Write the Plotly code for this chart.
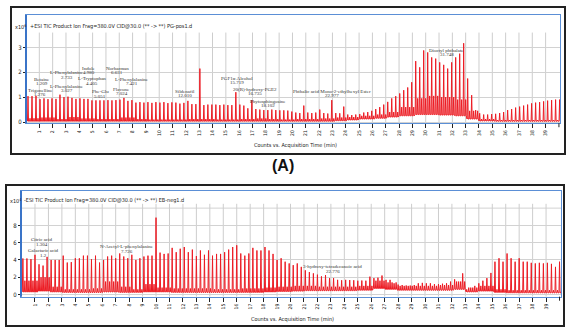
import plotly.graph_objects as go

FIG_W, FIG_H = 566, 331

# ---------------- Panel A : +ESI TIC (x10^6 counts) ----------------
A_T0, A_DT = 0.15, 0.30          # first scan-cycle spike (min) and cycle length (min)
A_PEAK = [
    1.04, 1.04, 1.05, 0.92, 0.95, 0.92, 0.95, 0.93, 1.10, 1.00,
    1.02, 0.97, 0.93, 0.95, 0.93, 0.93, 0.87, 0.87, 0.87, 0.87,
    0.88, 0.87, 0.88, 0.90, 0.97, 0.85, 0.88, 0.78, 0.80, 0.78,
    0.80, 0.77, 0.80, 0.78, 0.80, 0.76, 0.79, 0.78, 0.74, 0.77,
    0.85, 0.72, 0.72, 2.15, 0.68, 0.70, 0.70, 0.70, 0.68, 0.70,
    0.68, 0.68, 1.20, 0.70, 0.66, 0.55, 0.88, 0.52, 0.50, 0.48,
    0.48, 0.50, 0.48, 0.47, 0.47, 0.46, 0.42, 0.38, 0.36, 0.66,
    0.38, 0.36, 0.38, 0.50, 0.36, 0.34, 0.88, 0.36, 0.35, 0.62,
    0.30, 0.28, 0.30, 0.32, 0.38, 0.40, 0.45, 0.52, 0.60, 0.70,
    0.81, 0.95, 1.04, 1.15, 1.28, 1.39, 1.60, 2.45, 2.20, 2.88,
    2.80, 2.60, 2.55, 2.40, 2.30, 2.15, 2.40, 2.60, 2.75, 3.17,
    1.75, 1.08, 0.48, 0.35, 0.30, 0.30, 0.32, 0.33, 0.36, 0.40,
    0.48, 0.52, 0.58, 0.62, 0.66, 0.70, 0.75, 0.78, 0.80, 0.83,
    0.86, 0.88, 0.90, 0.90]
A_MINOR = [0.15, 0.18, 0.12, 0.20, 0.14, 0.12, 0.12, 0.18, 0.12, 0.10,
           0.10, 0.10, 0.12, 0.12, 0.10, 0.10, 0.12, 0.14, 0.12, 0.10,
           0.12, 0.12, 0.14, 0.18, 0.20, 0.25, 0.30, 0.40, 0.60, 0.95,
           1.05, 1.00, 0.90, 0.45, 0.12, 0.08, 0.08, 0.08, 0.08, 0.08]
A_FLOOR = [0.03, 0.03, 0.03, 0.03, 0.03, 0.03, 0.03, 0.03, 0.03, 0.03,
           0.03, 0.03, 0.03, 0.03, 0.03, 0.03, 0.03, 0.03, 0.03, 0.03,
           0.03, 0.03, 0.03, 0.05, 0.08, 0.12, 0.15, 0.20, 0.25, 0.30,
           0.30, 0.28, 0.25, 0.12, 0.04, 0.03, 0.03, 0.03, 0.03, 0.03]
A_NAMES = ["Betaine", "Trigonelline", "L-Phenylalanine", "L-Phenylalanine", "Indole",
           "L-Tryptophan", "Phe-Glu", "Norharman", "L-Phenylalanine", "Flavone",
           "Sildenafil", "PGF1α Alcohol", "20(R)-hydroxy-PGE2", "Phytosphingosine",
           "Phthalic acid Mono-2-ethylhexyl Ester", "Dioctyl phthalate"]
A_RT = ["1.209", "1.276", "2.733", "3.027", "4.980", "4.405", "5.051", "6.631",
        "7.421", "7.024", "12.010", "15.719", "16.735", "18.102", "22.977", "31.748"]
A_LBL_X = [1.2, 1.07, 3.1, 3.08, 4.7, 4.95, 5.57, 6.83, 7.95, 7.2, 11.95, 15.83, 17.2, 18.2, 22.96, 31.58]
A_LBL_Y = [1.71, 1.28, 1.98, 1.44, 2.16, 1.74, 1.22, 2.16, 1.71, 1.31, 1.24, 1.75, 1.31, 0.84, 1.24, 2.88]

# ---------------- Panel B : -ESI TIC (x10^4 counts) ----------------
B_T0, B_DT = 0.10, 0.30
B_PEAK = [
    4.17, 4.17, 4.10, 4.60, 3.50, 3.35, 4.36, 4.00, 4.00, 4.00,
    4.50, 3.70, 3.75, 4.20, 4.20, 4.50, 4.50, 4.10, 4.50, 3.70,
    4.00, 4.40, 4.50, 4.20, 4.75, 4.40, 4.20, 4.60, 4.00, 4.20,
    4.40, 4.50, 4.50, 8.90, 4.85, 4.70, 4.75, 5.40, 4.90, 5.30,
    5.50, 4.90, 5.20, 4.45, 5.10, 4.60, 5.10, 4.50, 4.70, 4.70,
    4.90, 5.20, 5.50, 5.70, 4.75, 4.50, 4.75, 5.40, 5.10, 5.10,
    5.50, 5.10, 4.70, 4.00, 4.20, 3.80, 3.60, 3.40, 3.60, 3.20,
    2.80, 2.60, 2.45, 2.30, 2.10, 2.25, 1.90, 1.90, 1.70, 1.65,
    1.70, 1.68, 1.65, 1.60, 1.62, 1.60, 2.07, 1.90, 1.95, 2.20,
    1.70, 1.70, 1.30, 1.15, 1.10, 1.05, 1.04, 1.10, 1.30, 1.35,
    1.30, 1.30, 1.20, 1.20, 1.25, 1.30, 1.50, 1.76, 1.50, 2.45,
    0.60, 0.80, 1.00, 1.30, 1.60, 1.90, 2.50, 3.80, 4.20, 3.80,
    4.75, 4.20, 3.80, 4.20, 3.80, 3.80, 3.67, 3.60, 3.67, 3.60,
    3.67, 3.55, 3.20, 3.80]
B_MINOR = [1.6, 2.0, 0.9, 0.6, 0.6, 0.7, 1.5, 0.9, 0.6, 1.2,
           0.8, 0.7, 0.7, 0.7, 0.6, 0.6, 0.7, 0.7, 0.8, 0.9,
           1.0, 1.0, 0.9, 0.9, 0.9, 1.0, 1.6, 1.4, 1.0, 1.0,
           1.0, 1.1, 1.5, 0.8, 1.0, 0.6, 0.5, 0.5, 0.5, 0.5]
B_FLOOR = [0.30, 0.40, 0.30, 0.25, 0.25, 0.25, 0.30, 0.25, 0.25, 0.30,
           0.30, 0.25, 0.25, 0.25, 0.25, 0.25, 0.25, 0.25, 0.30, 0.35,
           0.40, 0.45, 0.45, 0.45, 0.45, 0.50, 0.70, 0.60, 0.50, 0.50,
           0.50, 0.50, 0.60, 0.30, 0.40, 0.25, 0.20, 0.20, 0.20, 0.20]
B_NAMES = ["Citric acid", "Galactaric acid", "N-Acetyl-L-phenylalanine", "3-hydroxy-tetradecanoic acid"]
B_RT = ["1.304", "1.2", "7.726", "22.776"]
B_LBL_X = [1.5, 1.62, 7.82, 23.14]
B_LBL_Y = [6.39, 5.06, 5.52, 3.22]

X_TICKS = list(range(1, 40))
A_YTICKS = [0, 1, 2, 3]
B_YTICKS = [0, 2, 4, 6, 8]

RED = "rgb(236,28,36)"
BLUE = "#5b8fd6"
GRID = "#d2d2d2"
NARROW = "Liberation Sans Narrow, Arial Narrow, DejaVu Sans Condensed, Liberation Sans, sans-serif"
SERIF = "Liberation Serif, Times New Roman, serif"


def spikes(t0, dt, peaks, minor, floor):
    xs, ys = [], []
    for i, h in enumerate(peaks):
        t = t0 + i * dt
        m = min(int(t), len(minor) - 1)
        f = floor[m]
        xs += [t - 0.04, t, t + 0.04, t + 0.11, t + 0.15, t + 0.19]
        ys += [f, h, f, f, minor[m], f]
    return xs, ys


def px(x):
    return x / FIG_W


def py(y):
    return 1 - y / FIG_H


fig = go.Figure()
ax, ay = spikes(A_T0, A_DT, A_PEAK, A_MINOR, A_FLOOR)
bx, by = spikes(B_T0, B_DT, B_PEAK, B_MINOR, B_FLOOR)
fig.add_trace(go.Scatter(x=ax, y=ay, mode="lines", line=dict(color=RED, width=1),
                         xaxis="x", yaxis="y", hoverinfo="skip", showlegend=False))
fig.add_trace(go.Scatter(x=bx, y=by, mode="lines", line=dict(color=RED, width=1),
                         xaxis="x2", yaxis="y2", hoverinfo="skip", showlegend=False))

xcommon = dict(showgrid=False, zeroline=False, showline=True, mirror=True, linecolor=BLUE,
               linewidth=1, ticks="outside", ticklen=4, tickcolor="#222", tickwidth=1,
               tickvals=X_TICKS, tickangle=-90,
               tickfont=dict(family=NARROW, size=5, color="#222"), fixedrange=True)
ycommon = dict(showgrid=True, gridcolor=GRID, gridwidth=1, zeroline=False, showline=True,
               mirror=True, linecolor=BLUE, linewidth=1, ticks="outside", ticklen=2,
               tickcolor="#222", tickfont=dict(family=NARROW, size=6, color="#222"),
               fixedrange=True)

fig.update_layout(
    width=FIG_W, height=FIG_H, autosize=False,
    margin=dict(l=0, r=0, t=0, b=0),
    paper_bgcolor="white", plot_bgcolor="white",
    xaxis=dict(xcommon, domain=[px(26), px(560)], range=[0, 40.08], anchor="y"),
    yaxis=dict(ycommon, domain=[py(124), py(15)], range=[-0.05, 4.31], anchor="x",
               tickvals=A_YTICKS),
    xaxis2=dict(xcommon, domain=[px(21), px(561)], range=[-0.04, 40.11], anchor="y2"),
    yaxis2=dict(ycommon, domain=[py(298.5), py(192)], range=[-0.25, 12.0], anchor="x2",
                tickvals=B_YTICKS),
)

shapes = []
# vertical minute grid lines
for k in X_TICKS:
    shapes.append(dict(type="line", xref="x", yref="y", x0=k, x1=k, y0=-0.05, y1=3.6,
                       line=dict(color="#cdcdcd", width=1), layer="below"))
    shapes.append(dict(type="line", xref="x2", yref="y2", x0=k, x1=k, y0=-0.25, y1=10.5,
                       line=dict(color="#cdcdcd", width=1), layer="below"))
# end-of-run tick at 40 min
shapes.append(dict(type="line", xref="x", yref="paper", x0=40, x1=40, y0=py(124), y1=py(128),
                   line=dict(color="#222", width=1)))
shapes.append(dict(type="line", xref="x2", yref="paper", x0=40, x1=40, y0=py(298.5), y1=py(302.5),
                   line=dict(color="#222", width=1)))
# horizontal grid line at 10 (panel B, no label)
shapes.append(dict(type="line", xref="paper", yref="y2", x0=px(21), x1=px(561), y0=10, y1=10,
                   line=dict(color=GRID, width=1), layer="below"))
# thicker left blue axis
shapes.append(dict(type="line", xref="paper", yref="paper", x0=px(26), x1=px(26),
                   y0=py(124), y1=py(15), line=dict(color="#3a74c8", width=2)))
shapes.append(dict(type="line", xref="paper", yref="paper", x0=px(21), x1=px(21),
                   y0=py(298.5), y1=py(192), line=dict(color="#3a74c8", width=2)))
# outer black frames
shapes.append(dict(type="rect", xref="paper", yref="paper", x0=px(11), x1=px(565),
                   y0=py(155), y1=py(7), line=dict(color="#222", width=2)))
shapes.append(dict(type="rect", xref="paper", yref="paper", x0=px(6), x1=px(564),
                   y0=py(328), y1=py(186), line=dict(color="#222", width=2)))
fig.update_layout(shapes=shapes)

ann = []
for name, rt, x, y in zip(A_NAMES, A_RT, A_LBL_X, A_LBL_Y):
    ann.append(dict(xref="x", yref="y", x=x, y=y, text=name, showarrow=False,
                    font=dict(family=SERIF, size=5, color="#333"), yanchor="middle"))
    ann.append(dict(xref="x", yref="y", x=x, y=y - 0.18, text=rt, showarrow=False,
                    font=dict(family=SERIF, size=5, color="#333"), yanchor="middle"))
for name, rt, x, y in zip(B_NAMES, B_RT, B_LBL_X, B_LBL_Y):
    ann.append(dict(xref="x2", yref="y2", x=x, y=y, text=name, showarrow=False,
                    font=dict(family=SERIF, size=5, color="#333"), yanchor="middle"))
    ann.append(dict(xref="x2", yref="y2", x=x, y=y - 0.55, text=rt, showarrow=False,
                    font=dict(family=SERIF, size=5, color="#333"), yanchor="middle"))

small = dict(family=NARROW, size=5.5, color="#222")
ann += [
    dict(xref="paper", yref="paper", x=px(13), y=py(26.5), xanchor="left", yanchor="middle",
         text="x10<sup>6</sup>", showarrow=False, font=small),
    dict(xref="paper", yref="paper", x=px(28), y=py(26.5), xanchor="left", yanchor="middle",
         text="+ESI TIC Product Ion Frag=380.0V CID@30.0 (** -> **) PG-pos1.d",
         showarrow=False, font=small),
    dict(xref="paper", yref="paper", x=px(8), y=py(201.5), xanchor="left", yanchor="middle",
         text="x10<sup>4</sup>", showarrow=False, font=small),
    dict(xref="paper", yref="paper", x=px(22), y=py(201.5), xanchor="left", yanchor="middle",
         text="-ESI TIC Product Ion Frag=380.0V CID@30.0 (** -> **) EB-neg1.d",
         showarrow=False, font=small),
    dict(xref="paper", yref="paper", x=px(295), y=py(146), xanchor="center", yanchor="middle",
         text="Counts vs. Acquisition Time (min)", showarrow=False, font=small),
    dict(xref="paper", yref="paper", x=px(292), y=py(321.5), xanchor="center", yanchor="middle",
         text="Counts vs. Acquisition Time (min)", showarrow=False, font=small),
    dict(xref="paper", yref="paper", x=px(283), y=py(166.5), xanchor="center", yanchor="middle",
         text="<b>(A)</b>", showarrow=False,
         font=dict(family="Liberation Sans, Arial, sans-serif", size=16, color="#111")),
]
fig.update_layout(annotations=ann)

fig.write_html("out.html", config={"displayModeBar": False},
               post_script="document.body.style.margin='0';document.body.style.overflow='hidden';")
